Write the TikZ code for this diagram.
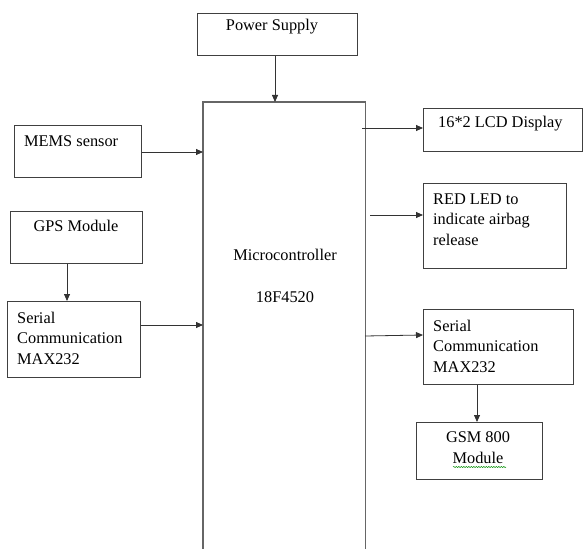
\documentclass[tikz,border=0pt]{standalone}
\usepackage{fontspec}
\setmainfont{Liberation Serif}
\usetikzlibrary{arrows.meta,decorations.pathmorphing}
\begin{document}
\begin{tikzpicture}[x=1bp,y=-1bp,
  box/.style={draw=black!75,line width=0.8bp,rectangle,inner sep=0pt,anchor=north west},
  lbl/.style={inner sep=0pt,anchor=base west,font=\fontsize{16.4}{20.5}\selectfont,align=left},
  clbl/.style={inner sep=0pt,anchor=base,font=\fontsize{16.4}{20.5}\selectfont,align=center},
  conn/.style={draw=black!80,line width=0.8bp,-{Triangle[length=7bp,width=6bp]}}]
\useasboundingbox (0,0) rectangle (583,549);

% boxes
\node[box,minimum width=160bp,minimum height=42bp] (ps) at (197,13) {};
\node[rectangle,inner sep=0pt,anchor=north west,minimum width=162bp,minimum height=447bp] (mcu) at (203,102) {};
\draw[draw=black!60,line width=1.4bp] (mcu.south west) -- (mcu.north west) -- (mcu.north east) -- (mcu.south east);
\node[box,minimum width=127bp,minimum height=52bp] (mems) at (14,125) {};
\node[box,minimum width=132bp,minimum height=52bp] (gps) at (10,211) {};
\node[box,minimum width=133bp,minimum height=76bp] (serl) at (7,301) {};
\node[box,minimum width=159bp,minimum height=43bp] (lcd) at (423,108) {};
\node[box,minimum width=143bp,minimum height=85bp] (led) at (423,183) {};
\node[box,minimum width=150bp,minimum height=75bp] (serr) at (423,309) {};
\node[box,minimum width=126bp,minimum height=57bp] (gsm) at (416,422) {};

% labels (multi-line labels are placed by the baseline of their last line)
\node[clbl] (tps) at (272,31) {Power Supply};
\node[clbl] (tmcu) at (285,260) {Microcontroller};
\node[clbl] (tmcub) at (285,302) {18F4520};
\node[lbl] (tmems) at (24,147) {MEMS sensor};
\node[clbl] (tgps) at (76,232) {GPS Module};
\node[lbl] (tserl) at (17,364) {Serial\\Communication\\MAX232};
\node[lbl] (tlcd) at (438,128) {16*2 LCD Display};
\node[lbl] (tled) at (433,245) {RED LED to\\indicate airbag\\release};
\node[lbl] (tserr) at (433,372) {Serial\\Communication\\MAX232};
\node[clbl] (tgsm) at (478,463) {GSM 800\\Module};
\draw[green!55!black,line width=0.5bp,decorate,decoration={snake,amplitude=0.6bp,segment length=2.5bp}] (453,467) -- (506,467);

% connectors
\coordinate (lcdsrc) at (362,128);
\coordinate (ledsrc) at (370,215);
\coordinate (serrsrc) at (365,336);
\path[conn] (ps.south -| 275,0) -- (mcu.north -| 275,0);
\path[conn] (mems.east |- 0,152) -- (mcu.west |- 0,152);
\path[conn] (gps.south -| 67,0) -- (serl.north -| 67,0);
\path[conn] (serl.east |- 0,325) -- (mcu.west |- 0,325);
\path[conn] (lcdsrc) -- (lcd.west |- lcdsrc);
\path[conn] (ledsrc) -- (led.west |- ledsrc);
\path[conn] (serrsrc) -- (serr.west |- 0,335);
\path[conn] (serr.south -| 477,0) -- (gsm.north -| 477,0);
\end{tikzpicture}
\end{document}
